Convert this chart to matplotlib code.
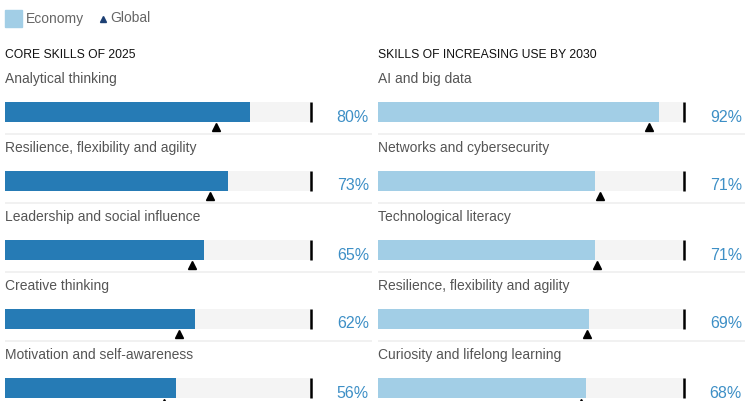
import matplotlib
matplotlib.use("Agg")
import matplotlib.pyplot as plt

plt.rcParams['font.family'] = ['Liberation Sans', 'DejaVu Sans']

# data
left_title = "CORE SKILLS OF 2025"
left_skills = ["Analytical thinking", "Resilience, flexibility and agility",
               "Leadership and social influence", "Creative thinking",
               "Motivation and self-awareness"]
left_economy = [80, 73, 65, 62, 56]
left_global = [69, 67, 61, 57, 52]

right_title = "SKILLS OF INCREASING USE BY 2030"
right_skills = ["AI and big data", "Networks and cybersecurity",
                "Technological literacy", "Resilience, flexibility and agility",
                "Curiosity and lifelong learning"]
right_economy = [92, 71, 71, 69, 68]
right_global = [88.5, 72.5, 71.5, 68.5, 66.5]

W, H = 747, 401
fig = plt.figure(figsize=(W / 100, H / 100), dpi=100)

def px_axes(x0, y0, x1, y1):
    # pixel box (top-left origin) -> figure axes
    return fig.add_axes([x0 / W, 1 - y1 / H, (x1 - x0) / W, (y1 - y0) / H])

ROW = 69.0           # px per row
BAR_C = 112.0        # px of first bar centre
TOP, BOT = 65.0, 401.0

def panel(ax, skills, econ, glob, bar_color):
    ax.set_xlim(0, 120)
    ax.set_ylim((BOT - BAR_C) / ROW, (TOP - BAR_C) / ROW)
    ax.axis('off')
    for i, (s, e, g) in enumerate(zip(skills, econ, glob)):
        ax.barh(i, 100, height=20 / ROW, color='#f4f4f4', zorder=1)
        ax.barh(i, e, height=20 / ROW, color=bar_color, zorder=2)
        ax.vlines(100, i - 10 / ROW, i + 10 / ROW, color='black', lw=1.8, zorder=3)
        ax.plot(g, i + 15 / ROW, marker='^', color='black', ms=5.5, zorder=4,
                clip_on=False)
        ax.hlines(i + 22 / ROW, 0, 120, color='#efefef', lw=1.2, zorder=0,
                  clip_on=False)
        ax.text(0, i - 33 / ROW, s, fontsize=10, color='#555555',
                va='center', ha='left', clip_on=False)
        ax.text(119, i + 5 / ROW, f"{e}%", fontsize=11.5, color='#3d8fc6',
                va='center', ha='right', clip_on=False)

ax_l = px_axes(5, TOP, 372, BOT)
panel(ax_l, left_skills, left_economy, left_global, '#267bb5')
ax_r = px_axes(378, TOP, 745, BOT)
panel(ax_r, right_skills, right_economy, right_global, '#a2cee6')

# section titles
fig.text(5 / W, 1 - 55 / H, left_title, fontsize=8.7, color='#111111', va='center')
fig.text(378 / W, 1 - 55 / H, right_title, fontsize=8.7, color='#111111', va='center')

# legend
fig.patches.append(plt.Rectangle((5 / W, 1 - 27 / H), 17 / W, 17 / H,
                                 transform=fig.transFigure, color='#a2cee6'))
fig.text(26 / W, 1 - 18.5 / H, "Economy", fontsize=10, color='#666666', va='center')
fig.lines.append(plt.Line2D([103 / W], [1 - 19 / H], marker='^', color='#1c3f73',
                            ms=4, transform=fig.transFigure))
fig.text(110 / W, 1 - 18.5 / H, "Global", fontsize=10, color='#666666', va='center')

fig.savefig("out.png", dpi=100)
